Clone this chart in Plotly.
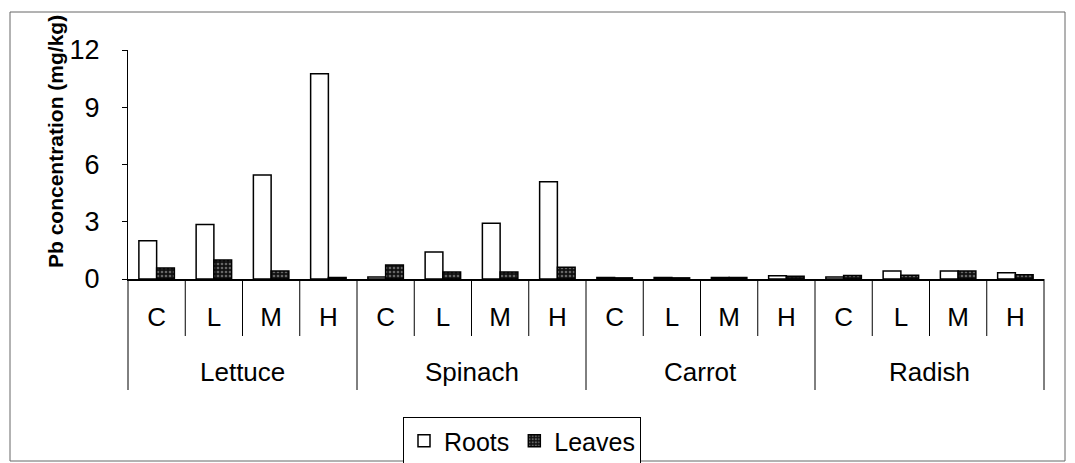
import plotly.graph_objects as go

# crops and treatment levels
crops = ["Lettuce", "Spinach", "Carrot", "Radish"]
levels = ["C", "L", "M", "H"]

# Pb concentration (mg/kg)
roots = [2.0, 2.85, 5.45, 10.75,
         0.1, 1.42, 2.92, 5.1,
         0.08, 0.08, 0.08, 0.17,
         0.1, 0.42, 0.42, 0.33]
leaves = [0.58, 1.0, 0.42, 0.08,
          0.73, 0.37, 0.37, 0.62,
          0.06, 0.06, 0.08, 0.15,
          0.18, 0.2, 0.42, 0.22]

y_ticks = [0, 3, 6, 9, 12]

FONT = "Liberation Sans, Arial, sans-serif"

# one slot per crop/level pair on the x axis
n_lv = len(levels)
xpos = list(range(len(crops) * n_lv))
tick_text = [lv for _ in crops for lv in levels]

# the page body adds an 8px margin, so the figure is drawn 8px smaller
OFF = 8
FIG_W, FIG_H = 1075 - OFF, 463 - OFF

# plot area in page pixels (used only for layout decorations)
L, R, T, B = 128, 1044, 50, 279
W, H = R - L, B - T


def py(pix):
    # page pixel row -> paper y
    return (B - pix) / H


def px_(pix):
    # page pixel column -> paper x
    return (pix - L) / W


fig = go.Figure()
fig.add_trace(go.Bar(
    x=xpos, y=roots, name="Roots",
    marker=dict(color="white", line=dict(color="black", width=1.5)),
))
fig.add_trace(go.Bar(
    x=xpos, y=leaves, name="Leaves",
    marker=dict(color="#111111", line=dict(color="black", width=1.5),
                pattern=dict(shape=".", fgcolor="#bbbbbb", bgcolor="#111111",
                             size=4, solidity=0.35)),
))

fig.update_layout(
    width=FIG_W, height=FIG_H,
    margin=dict(l=L - OFF, r=1075 - R, t=T - OFF, b=463 - B, autoexpand=False),
    paper_bgcolor="white", plot_bgcolor="white",
    font=dict(family=FONT, size=26, color="black"),
    barmode="group", bargap=0.38, bargroupgap=0,
    showlegend=True,
    legend=dict(orientation="h", x=px_(522), xanchor="center", y=py(417), yanchor="top",
                bordercolor="black", borderwidth=1, font=dict(size=25),
                itemwidth=30, tracegroupgap=0),
)

fig.update_yaxes(
    range=[0, 12], tickvals=y_ticks,
    showgrid=False, zeroline=False,
    showline=True, linecolor="black", linewidth=1,
    ticks="outside", ticklen=5, tickcolor="black",
    ticklabelstandoff=17,
    tickfont=dict(size=27),
)
fig.update_xaxes(
    range=[-0.5, len(xpos) - 0.5],
    tickvals=xpos, ticktext=tick_text,
    showgrid=False, zeroline=False,
    showline=True, linecolor="black", linewidth=1.5,
    ticks="", ticklabelstandoff=14,
    tickfont=dict(size=26),
)

# table-style dividers under the axis
for k in range(1, len(xpos)):
    bottom = 390 if k % n_lv == 0 else 336
    fig.add_shape(type="line", xref="x", yref="paper",
                  x0=k - 0.5, x1=k - 0.5, y0=0, y1=py(bottom),
                  line=dict(color="black", width=1))
for xe in (0, 1):
    fig.add_shape(type="line", xref="paper", yref="paper",
                  x0=xe, x1=xe, y0=0, y1=py(390),
                  line=dict(color="black", width=1))

# crop names centred under each group of levels
for i, crop in enumerate(crops):
    fig.add_annotation(text=crop, xref="x", yref="paper",
                       x=i * n_lv + (n_lv - 1) / 2, y=py(372),
                       xanchor="center", yanchor="middle",
                       showarrow=False, font=dict(size=26))

fig.add_annotation(
    text="<b>Pb concentration (mg/kg)</b>", textangle=-90,
    xref="paper", yref="paper", x=px_(55), y=py(142),
    xanchor="center", yanchor="middle",
    showarrow=False, font=dict(size=21, family=FONT),
)

# thin frame around the whole chart area
fig.add_shape(type="rect", xref="paper", yref="paper",
              x0=px_(10), x1=px_(1065), y0=py(461), y1=py(12),
              line=dict(color="#666666", width=1))

fig.write_html("out.html")
